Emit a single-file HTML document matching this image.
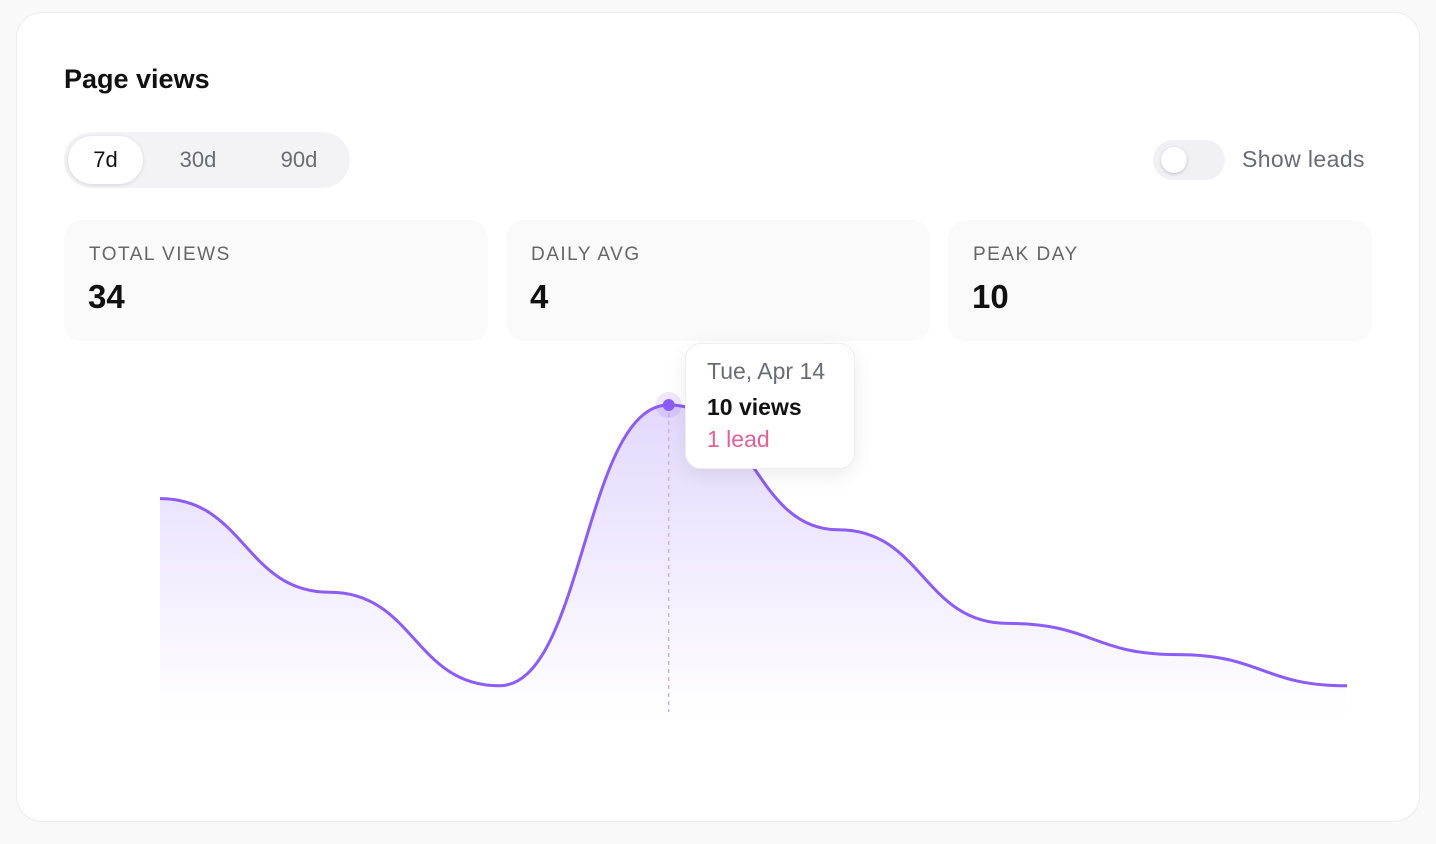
<!DOCTYPE html>
<html><head><meta charset="utf-8"><style>
body{margin:0;width:1436px;height:844px;background:#f9f9f9;font-family:"Liberation Sans",sans-serif;position:relative;overflow:hidden}
.card{position:absolute;left:16px;top:12px;width:1402px;height:808px;background:#fff;border:1px solid #ececec;border-radius:26px}
.abs{position:absolute}
.title{left:64px;top:64px;font-size:27px;font-weight:bold;color:#111}
.seg{left:64px;top:132px;width:286px;height:56px;background:#f3f3f5;border-radius:28px}
.segbtn{position:absolute;top:4px;height:48px;line-height:48px;font-size:22px;color:#6b6b75;text-align:center}
.active{background:#fff;color:#111;border-radius:24px;box-shadow:0 1px 4px rgba(0,0,0,.12)}
.toggle{left:1153px;top:140px;width:72px;height:40px;background:#f1f1f3;border-radius:20px}
.knob{position:absolute;left:8px;top:7px;width:26px;height:26px;background:#fff;border-radius:50%;box-shadow:0 1px 3px rgba(0,0,0,.2)}
.lbl{left:1242px;top:146px;font-size:23px;color:#6b6b75;letter-spacing:0.4px}
.stat{top:220px;width:424px;height:121px;background:#fafafa;border-radius:18px}
.stat .k{position:absolute;left:25px;top:24px;font-size:19px;letter-spacing:1.5px;color:#666}
.stat .v{position:absolute;left:24px;top:58px;font-size:33px;font-weight:bold;color:#111}
.tip{left:685px;top:343px;width:168px;height:124px;background:#fff;border:1px solid #eee;border-radius:16px;box-shadow:0 6px 20px rgba(0,0,0,.08)}
</style></head><body>
<div class="card"></div>
<div class="abs title">Page views</div>
<div class="abs seg">
<div class="segbtn active" style="left:4px;width:75px">7d</div>
<div class="segbtn" style="left:94px;width:80px">30d</div>
<div class="segbtn" style="left:195px;width:80px">90d</div>
</div>
<div class="abs toggle"><div class="knob"></div></div>
<div class="abs lbl">Show leads</div>
<div class="abs stat" style="left:64px"><div class="k">TOTAL VIEWS</div><div class="v">34</div></div>
<div class="abs stat" style="left:506px"><div class="k">DAILY AVG</div><div class="v">4</div></div>
<div class="abs stat" style="left:948px"><div class="k">PEAK DAY</div><div class="v">10</div></div>
<svg class="abs" style="left:0;top:0" width="1436" height="844">
<defs><linearGradient id="g" x1="0" y1="0" x2="0" y2="1"><stop offset="0" stop-color="#8b5cf6" stop-opacity="0.24"/><stop offset="1" stop-color="#8b5cf6" stop-opacity="0"/></linearGradient></defs>
<g id="plot"></g>
</svg>
<div class="abs tip">
<div class="abs" style="left:21px;top:14px;font-size:23px;color:#6b6b75">Tue, Apr 14</div>
<div class="abs" style="left:21px;top:50px;font-size:23px;font-weight:bold;color:#111">10 views</div>
<div class="abs" style="left:21px;top:82px;font-size:23px;color:#e0609a">1 lead</div>
</div>
<script>
const days=["Apr 11","Apr 12","Apr 13","Apr 14","Apr 15","Apr 16","Apr 17","Apr 18"];
const views=[7,4,1,10,6,3,2,1];
const activeIndex=3;
const X0=160,X1=1347,Y0=717,PXU=31.2;
const x=i=>X0+(X1-X0)*i/(views.length-1);
const y=v=>Y0-v*PXU;
const pts=views.map((v,i)=>[x(i),y(v)]);
function bump(p){let s=`M${p[0][0]},${p[0][1]}`;for(let i=0;i<p.length-1;i++){const mx=(p[i][0]+p[i+1][0])/2;s+=` C${mx},${p[i][1]} ${mx},${p[i+1][1]} ${p[i+1][0]},${p[i+1][1]}`;}return s;}
const g=document.getElementById('plot');const NS="http://www.w3.org/2000/svg";
const line=bump(pts);
const area=document.createElementNS(NS,'path');


area.setAttribute('d',line+` L${x(views.length-1)},${Y0} L${x(0)},${Y0} Z`);area.setAttribute('fill','url(#g)');g.appendChild(area);
const vl=document.createElementNS(NS,'line');


vl.setAttribute('x1',x(activeIndex));vl.setAttribute('x2',x(activeIndex));vl.setAttribute('y1',y(views[activeIndex]));vl.setAttribute('y2',Y0-5);vl.setAttribute('stroke','#c4b5fd');vl.setAttribute('stroke-width','1.5');vl.setAttribute('stroke-dasharray','4 4');g.appendChild(vl);
const pl=document.createElementNS(NS,'path');


pl.setAttribute('d',line);pl.setAttribute('fill','none');pl.setAttribute('stroke','#8b5cf6');pl.setAttribute('stroke-width','3');g.appendChild(pl);
const halo=document.createElementNS(NS,'circle');


halo.setAttribute('cx',x(activeIndex));halo.setAttribute('cy',y(views[activeIndex]));halo.setAttribute('r','13');halo.setAttribute('fill','#8b5cf6');halo.setAttribute('fill-opacity','0.15');g.appendChild(halo);
const dot=document.createElementNS(NS,'circle');


dot.setAttribute('cx',x(activeIndex));dot.setAttribute('cy',y(views[activeIndex]));dot.setAttribute('r','6');dot.setAttribute('fill','#8b5cf6');g.appendChild(dot);
</script>
</body></html>
